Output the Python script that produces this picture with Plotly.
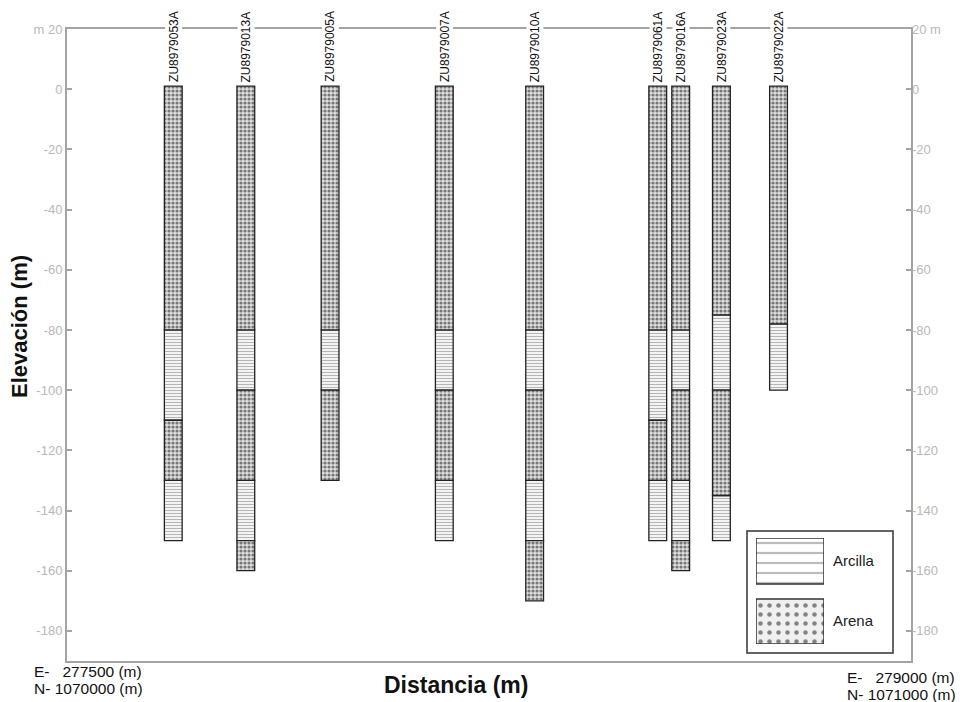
import plotly.graph_objects as go

# ---------------- data ----------------
wells = ["ZU8979053A", "ZU8979013A", "ZU8979005A", "ZU8979007A", "ZU8979010A",
         "ZU8979061A", "ZU8979016A", "ZU8979023A", "ZU8979022A"]
dist_m = [227, 382, 562, 806, 999, 1262, 1311, 1398, 1520]
# layer boundaries (elevation, m) from top of well to bottom
boundaries = [
    [1, -80, -110, -130, -150],
    [1, -80, -100, -130, -150, -160],
    [1, -80, -100, -130],
    [1, -80, -100, -130, -150],
    [1, -80, -100, -130, -150, -170],
    [1, -80, -110, -130, -150],
    [1, -80, -100, -130, -150, -160],
    [1, -75, -100, -135, -150],
    [1, -78, -100],
]
# lithology of each layer (between consecutive boundaries)
liths = [
    ["Arena", "Arcilla", "Arena", "Arcilla"],
    ["Arena", "Arcilla", "Arena", "Arcilla", "Arena"],
    ["Arena", "Arcilla", "Arena"],
    ["Arena", "Arcilla", "Arena", "Arcilla"],
    ["Arena", "Arcilla", "Arena", "Arcilla", "Arena"],
    ["Arena", "Arcilla", "Arena", "Arcilla"],
    ["Arena", "Arcilla", "Arena", "Arcilla", "Arena"],
    ["Arena", "Arcilla", "Arena", "Arcilla"],
    ["Arena", "Arcilla"],
]
y_ticks = [20, 0, -20, -40, -60, -80, -100, -120, -140, -160, -180]
section_length = 1803
legend_items = ["Arcilla", "Arena"]

FONT = "Liberation Sans, Arial, sans-serif"
FRAME = "#a3a3a3"
TICKFONT = "#b8b8b8"

styles = {
    "Arcilla": dict(shape="-", fgcolor="#6e6e6e", bgcolor="#ffffff", size=3, solidity=0.45),
    "Arena": dict(shape=".", fgcolor="#101010", bgcolor="#dedede", size=4, solidity=0.5),
}

fig = go.Figure()

for lith in legend_items:
    xs, hs, bs = [], [], []
    for d, bnd, lit in zip(dist_m, boundaries, liths):
        for i, l in enumerate(lit):
            if l == lith:
                xs.append(d)
                bs.append(bnd[i + 1])
                hs.append(bnd[i] - bnd[i + 1])
    st = styles[lith]
    fig.add_trace(go.Bar(
        x=xs, y=hs, base=bs, width=38, name=lith,
        marker=dict(color=st["bgcolor"], pattern=st,
                    line=dict(color="#222222", width=1.3)),
        showlegend=False, hoverinfo="skip"))

# empty trace so that the right-hand elevation axis is drawn
fig.add_trace(go.Scatter(x=[None], y=[None], yaxis="y2", mode="markers",
                         showlegend=False, hoverinfo="skip"))

# legend swatches on their own small axes
leg_base = {"Arcilla": 60, "Arena": 0}
leg_h = {"Arcilla": 46, "Arena": 45}
for lith in legend_items:
    st = dict(styles[lith])
    if lith == "Arena":
        st.update(size=9, solidity=0.2, bgcolor="#f0f0f0", fgcolor="#151515")
    else:
        st.update(size=10, solidity=0.22, fgcolor="#7a7a7a")
    fig.add_trace(go.Bar(
        x=[0], y=[leg_h[lith]], base=[leg_base[lith]], width=1,
        marker=dict(color=st["bgcolor"], pattern=st,
                    line=dict(color="#333333", width=1.5)),
        xaxis="x3", yaxis="y3", showlegend=False, hoverinfo="skip"))

W, H = 966, 702
ml, mr, mt, mb = 67, 55, 29, 41
pw, ph = W - ml - mr, H - mt - mb


def px_x(p):
    return (p - ml) / pw


def px_y(p):
    return (H - mb - p) / ph


left_text = ["m 20" if v == 20 else str(v) for v in y_ticks]
right_text = ["20 m" if v == 20 else str(v) for v in y_ticks]

annotations = []
for name, d, bnd in zip(wells, dist_m, boundaries):
    annotations.append(dict(
        x=d, y=bnd[0], xref="x", yref="y", text=name, textangle=-90,
        showarrow=False, xanchor="center", yanchor="bottom", yshift=2,
        font=dict(family=FONT, size=12, color="#111"), bgcolor="white", borderpad=1))

annotations += [
    dict(x=px_x(456), y=px_y(685), xref="paper", yref="paper", text="<b>Distancia (m)</b>",
         showarrow=False, xanchor="center", yanchor="middle",
         font=dict(family=FONT, size=23, color="#111")),
    dict(x=px_x(19), y=px_y(327), xref="paper", yref="paper", text="<b>Elevación (m)</b>",
         textangle=-90, showarrow=False, xanchor="center", yanchor="middle",
         font=dict(family=FONT, size=22, color="#111")),
    dict(x=px_x(32), y=px_y(671), xref="paper", yref="paper",
         text="E-\u00a0\u00a0\u00a0277500 (m)", showarrow=False, xanchor="left", yanchor="middle",
         font=dict(family=FONT, size=15.5, color="#111")),
    dict(x=px_x(32), y=px_y(688), xref="paper", yref="paper",
         text="N- 1070000 (m)", showarrow=False, xanchor="left", yanchor="middle",
         font=dict(family=FONT, size=15.5, color="#111")),
    dict(x=px_x(845), y=px_y(677), xref="paper", yref="paper",
         text="E-\u00a0\u00a0\u00a0279000 (m)", showarrow=False, xanchor="left", yanchor="middle",
         font=dict(family=FONT, size=15.5, color="#111")),
    dict(x=px_x(845), y=px_y(694), xref="paper", yref="paper",
         text="N- 1071000 (m)", showarrow=False, xanchor="left", yanchor="middle",
         font=dict(family=FONT, size=15.5, color="#111")),
    dict(x=px_x(831), y=px_y(560), xref="paper", yref="paper", text="Arcilla",
         showarrow=False, xanchor="left", yanchor="middle",
         font=dict(family=FONT, size=15, color="#222")),
    dict(x=px_x(831), y=px_y(620), xref="paper", yref="paper", text="Arena",
         showarrow=False, xanchor="left", yanchor="middle",
         font=dict(family=FONT, size=15, color="#222")),
]

fig.update_layout(
    width=W, height=H,
    margin=dict(l=ml, r=mr, t=mt, b=mb, autoexpand=False),
    paper_bgcolor="white", plot_bgcolor="white",
    barmode="overlay",
    font=dict(family=FONT),
    xaxis=dict(range=[0, section_length], showline=True, mirror=True, linecolor=FRAME,
               linewidth=2, showticklabels=False, ticks="", showgrid=False, zeroline=False,
               fixedrange=True),
    yaxis=dict(range=[-190, 20], tickvals=y_ticks, ticktext=left_text, ticks="inside",
               ticklen=5, tickcolor=FRAME, tickwidth=1.5,
               tickfont=dict(family=FONT, size=13, color=TICKFONT),
               showline=True, mirror=True, linecolor=FRAME, linewidth=2,
               showgrid=False, zeroline=False),
    yaxis2=dict(range=[-190, 20], overlaying="y", side="right", anchor="x",
                tickvals=y_ticks, ticktext=right_text, ticks="inside", ticklen=5,
                tickcolor=FRAME, tickwidth=1.5,
                tickfont=dict(family=FONT, size=13, color=TICKFONT),
                showline=False, showgrid=False, zeroline=False),
    xaxis3=dict(domain=[px_x(756), px_x(824)], range=[-0.5, 0.5], anchor="y3", visible=False),
    yaxis3=dict(domain=[px_y(644), px_y(538)], range=[0, 106], anchor="x3", visible=False),
    shapes=[dict(type="rect", xref="paper", yref="paper", x0=px_x(747), x1=px_x(893),
                 y0=px_y(653), y1=px_y(531), line=dict(color="#333333", width=1.5),
                 fillcolor="white", layer="below")],
    annotations=annotations,
)

fig.write_html("out.html", config={"displayModeBar": False},
               post_script="document.body.style.margin='0';")
